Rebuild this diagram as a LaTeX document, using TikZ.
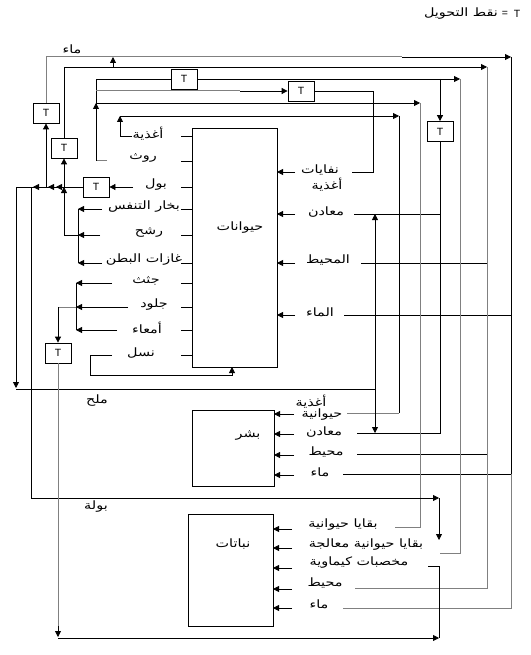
\documentclass[tikz,border=0pt]{standalone}
\usepackage{fontspec}
\usetikzlibrary{arrows.meta}
\newfontfamily\arabicfont[Script=Arabic,FakeStretch=1.25]{DejaVu Sans}
\newfontfamily\latinfont{Liberation Sans}
\TeXXeTstate=1
\newcommand{\rl}[1]{\beginR #1\endR}
\definecolor{lg}{RGB}{128,128,128}
\begin{document}
\begin{tikzpicture}[x=1pt,y=-1pt,
  ln/.style={line width=0.8pt},
  gln/.style={line width=1pt, draw=lg},
  arr/.style={-{Triangle[length=6pt,width=6pt]}},
  bx/.style={draw, line width=0.8pt, inner sep=0pt},
  tb/.style={draw, line width=0.8pt, minimum width=26pt, minimum height=20pt, inner sep=0pt, font=\latinfont\fontsize{10.5}{11}\selectfont},
  lt/.style={inner sep=0pt, font=\latinfont\fontsize{10.5}{11}\selectfont},
  lb/.style={inner sep=0pt, font=\arabicfont\fontsize{11.5}{13}\selectfont},
]
\useasboundingbox (0,0) rectangle (530,655);

% title
\node[lb] (ttl) at (461,14) {\rl{نقط التحويل}};
\node[lt] (teq) at (505,14) {=};
\node[lt] (tT) at (517,14) {T};

% boxes
\node[bx, minimum width=85pt, minimum height=239pt] (anim) at (234.5,247.5) {};
\node[bx, minimum width=82pt, minimum height=76pt] (hum) at (233,448) {};
\node[bx, minimum width=85pt, minimum height=112pt] (plant) at (230.5,570) {};
\node[lb] (animl) at (240,228) {\rl{حيوانات}};
\node[lb] (huml) at (248,436) {\rl{بشر}};
\node[lb] (plantl) at (233,544) {\rl{نباتات}};

% T boxes
\node[tb] (T1) at (46,113) {T};
\node[tb] (T2) at (64,148) {T};
\node[tb] (T3) at (96,187) {T};
\node[tb] (Ttop) at (184,79) {T};
\node[tb] (Tmid) at (301,91) {T};
\node[tb] (Tr) at (440,131.5) {T};
\node[tb] (T4) at (58,353) {T};

% animal left labels
\node[lb] (a1) at (148,134) {\rl{أغذية}};
\node[lb] (a2) at (143,158) {\rl{روث}};
\node[lb] (a3) at (156,185) {\rl{بول}};
\node[lb] (a4) at (144,207) {\rl{بخار التنفس}};
\node[lb] (a5) at (149,233) {\rl{رشح}};
\node[lb] (a6) at (144,260) {\rl{غازات البطن}};
\node[lb] (a7) at (146,281) {\rl{جثث}};
\node[lb] (a8) at (154,305) {\rl{جلود}};
\node[lb] (a9) at (147,328) {\rl{أمعاء}};
\node[lb] (a10) at (141,353) {\rl{نسل}};
\foreach \y in {136,161,187,209,235,263,283,307,330,355}
  \draw[ln] (181,\y) -- (192,\y);

% animal right labels
\node[lb] (b1) at (320,170) {\rl{نفايات}};
\node[lb] (b1b) at (327,185) {\rl{أغذية}};
\node[lb] (b2) at (326,212) {\rl{معادن}};
\node[lb] (b3) at (328,260) {\rl{المحيط}};
\node[lb] (b4) at (320,312) {\rl{الماء}};
\foreach \y in {172,214,263,315}
  \draw[ln,arr] (295,\y) -- (277,\y);

% human labels
\node[lb] (h1) at (311,402) {\rl{أغذية}};
\node[lb] (h1b) at (322,415) {\rl{حيوانية}};
\node[lb] (h2) at (324,432) {\rl{معادن}};
\node[lb] (h3) at (326,452) {\rl{محيط}};
\node[lb] (h4) at (320,472) {\rl{ماء}};
\foreach \y in {414,434,455,475}
  \draw[ln,arr] (294,\y) -- (274,\y);

% plant labels
\node[lb] (p1) at (343,525) {\rl{بقايا حيوانية}};
\node[lb] (p2) at (366,545) {\rl{بقايا حيوانية معالجة}};
\node[lb] (p3) at (359,563) {\rl{مخصبات كيماوية}};
\node[lb] (p4) at (325,583) {\rl{محيط}};
\node[lb] (p5) at (319,604) {\rl{ماء}};
\foreach \y in {529,548,568,589,608}
  \draw[ln,arr] (292,\y) -- (273,\y);

% free labels
\node[lb] (lw) at (72,49) {\rl{ماء}};
\node[lb] (ls) at (97,401) {\rl{ملح}};
\node[lb] (lb2) at (96,507) {\rl{بولة}};

% outer water loop
\draw[gln] (T1.north) -- (46,57) -- (402,57);
\draw[ln,arr] (402,57) -- (511,57);
\draw[ln] (511,57) -- (511,474);
\draw[gln] (511,474) -- (511,608) -- (343,608);
\draw[ln] (344,315) -- (511,315);
\draw[ln] (343,474) -- (511,474);
\draw[ln,arr] (46,187) -- (T1.south);

% second loop (environment)
\draw[ln] (T2.north) -- (64,67) -- (420,67);
\draw[ln,arr] (420,67) -- (487,67);
\draw[gln] (487,67) -- (487,588) -- (355,588);
\draw[ln] (361,263) -- (487,263);
\draw[ln] (357,454) -- (487,454);
\draw[ln,arr] (113,67) -- (113,57);
\draw[ln,arr] (64,187) -- (T2.south);
\draw[ln,arr] (64,235) -- (64,187);
\draw[ln] (78,235) -- (64,235);

% dung
\draw[gln] (107,161) -- (96,161);
\draw[ln] (96,161) -- (96,79) -- (Ttop.west);
\draw[ln,arr] (96,115) -- (96,103);
\draw[ln,arr] (Ttop.east) -- (460,79);
\draw[gln] (460,79) -- (460,553) -- (440,553);
\draw[ln,arr] (440,79) -- (Tr.north);
\draw[ln] (Tr.south) -- (440,433) -- (357,433);
\draw[ln] (440,214) -- (354,214);
\draw[gln] (96,91) -- (240,91);
\draw[ln,arr] (240,91) -- (Tmid.west);
\draw[ln] (Tmid.east) -- (373,91) -- (373,172) -- (352,172);
\draw[ln,arr] (96,103) -- (420,103);
\draw[gln] (420,103) -- (420,527) -- (395,527);

% food
\draw[ln,arr] (132,136) -- (120,136) -- (120,116);
\draw[ln,arr] (120,116) -- (399,116);
\draw[ln] (399,116) -- (399,413);
\draw[gln] (399,413) -- (347,413);

% urine
\draw[ln,arr] (133,187) -- (T3.east);
\draw[ln] (T3.west) -- (16,187);
\foreach \x in {56,48,33} \draw[ln,arr] (\x+7,187) -- (\x,187);
\draw[ln,arr] (16,187) -- (16,388);
\draw[ln] (16,389) -- (375,389);
\draw[ln,arr] (31,187) -- (31,498) -- (439,498);
\draw[ln,arr] (439,498) -- (439,540);
\draw[ln,{Triangle[length=6pt,width=6pt]}-{Triangle[length=6pt,width=6pt]}] (375,214) -- (375,433);

% breath etc.
\draw[ln] (78,209) -- (78,263);
\draw[ln,arr] (102,209) -- (78,209);
\draw[ln,arr] (100,235) -- (78,235);
\draw[ln,arr] (102,263) -- (78,263);

% carcasses etc.
\draw[ln] (76,283) -- (76,330);
\draw[ln,arr] (112,283) -- (76,283);
\draw[ln,arr] (128,307) -- (76,307);
\draw[ln,arr] (117,330) -- (76,330);
\draw[gln] (76,307) -- (58,307);
\draw[ln,arr] (58,307) -- (T4.north);
\draw[gln] (T4.south) -- (58,628);
\draw[ln,arr] (58,626) -- (58,637);
\draw[ln,arr] (58,638) -- (439,638);
\draw[ln] (439,638) -- (439,566) -- (428,566);

% offspring
\draw[ln,arr] (112,355) -- (90,355) -- (90,375) -- (232,375) -- (232,367);
\end{tikzpicture}
\end{document}
